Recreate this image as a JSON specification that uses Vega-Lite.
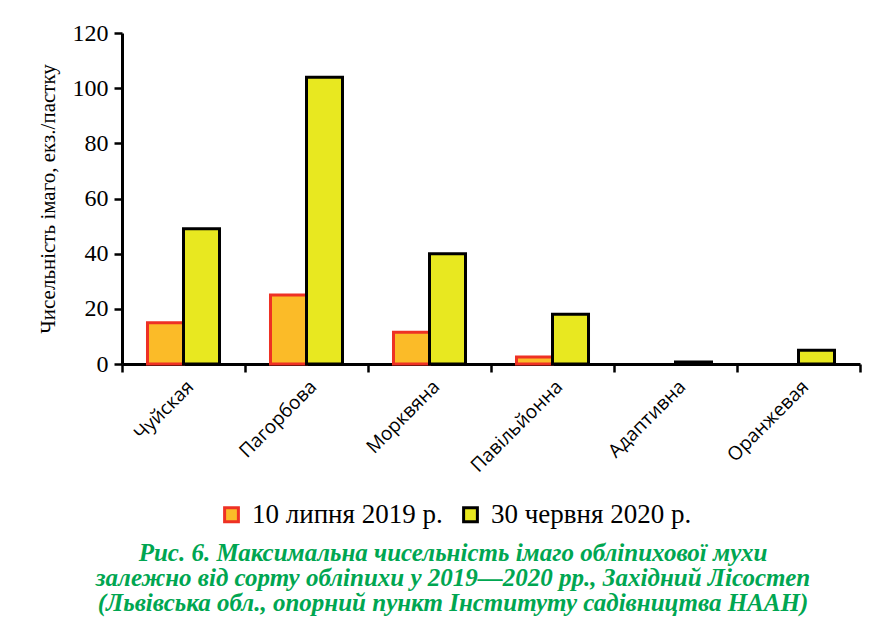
{
  "$schema": "https://vega.github.io/schema/vega-lite/v6.json",
  "width": 738,
  "height": 331,
  "autosize": {"type": "none"},
  "padding": {"left": 122, "top": 33, "right": 21, "bottom": 255},
  "background": "white",
  "config": {
    "view": {"stroke": null},
    "legend": {
      "labelFont": "Liberation Serif",
      "labelFontSize": 27,
      "labelColor": "black",
      "labelLimit": 0,
      "symbolType": "square",
      "symbolSize": 190,
      "symbolStrokeWidth": 3,
      "columnPadding": 14,
      "labelOffset": 7
    }
  },
  "title": {
    "text": ["Рис. 6. Максимальна чисельність імаго обліпихової мухи", "залежно від сорту обліпихи у 2019—2020 рр., Західний Лісостеп", "(Львівська обл., опорний пункт Інституту садівництва НААН)"],
    "orient": "bottom",
    "anchor": "middle",
    "dx": -38,
    "offset": 13,
    "font": "Liberation Serif",
    "fontSize": 25,
    "fontStyle": "italic",
    "fontWeight": "bold",
    "color": "#00a651",
    "lineHeight": 25
  },
  "data": {
    "values": [
      {"variety": "Чуйская", "date": "10 липня 2019 р.", "value": 15},
      {"variety": "Чуйская", "date": "30 червня 2020 р.", "value": 49},
      {"variety": "Пагорбова", "date": "10 липня 2019 р.", "value": 25},
      {"variety": "Пагорбова", "date": "30 червня 2020 р.", "value": 104},
      {"variety": "Морквяна", "date": "10 липня 2019 р.", "value": 11.5},
      {"variety": "Морквяна", "date": "30 червня 2020 р.", "value": 40},
      {"variety": "Павільйонна", "date": "10 липня 2019 р.", "value": 2.5},
      {"variety": "Павільйонна", "date": "30 червня 2020 р.", "value": 18},
      {"variety": "Адаптивна", "date": "30 червня 2020 р.", "value": 0.7},
      {"variety": "Оранжевая", "date": "30 червня 2020 р.", "value": 5}
    ]
  },
  "mark": {"type": "bar", "strokeWidth": 3},
  "encoding": {
    "x": {
      "field": "variety",
      "type": "nominal",
      "sort": null,
      "scale": {"paddingInner": 0, "paddingOuter": 0},
      "axis": {
        "title": null,
        "labelAngle": -45,
        "labelFont": "Open Sans",
        "labelFontSize": 19,
        "labelColor": "black",
        "labelPadding": 5,
        "labelLimit": 0,
        "tickBand": "extent",
        "tickSize": 8,
        "tickWidth": 2.5,
        "tickColor": "black",
        "domainColor": "black",
        "domainWidth": 3
      }
    },
    "xOffset": {
      "field": "date",
      "type": "nominal",
      "scale": {"domain": ["10 липня 2019 р.", "30 червня 2020 р."], "paddingInner": 0, "paddingOuter": 0.708}
    },
    "y": {
      "field": "value",
      "type": "quantitative",
      "scale": {"domain": [0, 120], "nice": false},
      "axis": {
        "title": "Чисельність імаго, екз./пастку",
        "titleFont": "Liberation Serif",
        "titleFontSize": 21,
        "titleFontWeight": "normal",
        "titleColor": "black",
        "titlePadding": 14,
        "values": [0, 20, 40, 60, 80, 100, 120],
        "grid": false,
        "labelFont": "Liberation Serif",
        "labelFontSize": 24,
        "labelColor": "black",
        "labelPadding": 6,
        "tickSize": 8,
        "tickWidth": 2.5,
        "tickColor": "black",
        "domainColor": "black",
        "domainWidth": 3
      }
    },
    "fill": {
      "field": "date",
      "type": "nominal",
      "scale": {"domain": ["10 липня 2019 р.", "30 червня 2020 р."], "range": ["#fbbb28", "#e8e820"]},
      "legend": {
        "title": null,
        "orient": "none",
        "legendX": 96,
        "legendY": 468,
        "direction": "horizontal"
      }
    },
    "stroke": {
      "field": "date",
      "type": "nominal",
      "scale": {"domain": ["10 липня 2019 р.", "30 червня 2020 р."], "range": ["#ee3124", "#000000"]},
      "legend": {
        "title": null,
        "orient": "none",
        "legendX": 96,
        "legendY": 468,
        "direction": "horizontal"
      }
    }
  }
}
